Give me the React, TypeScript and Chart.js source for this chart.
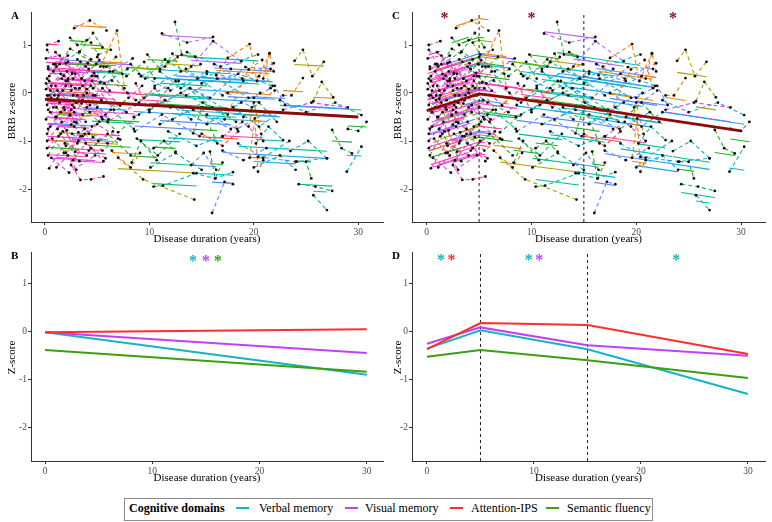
import React, { useEffect, useRef } from "react";
import { Chart, registerables } from "chart.js";
Chart.register(...registerables);

const FONT = "'Liberation Serif', 'Times New Roman', serif";

const xTicks = [0, 10, 20, 30];
const yTicks = [-2, -1, 0, 1];
const knotYears = [5, 15];

// population trends (panels A and C)
const trendAx = [0, 30];
const trendAy = [-0.13, -0.5];
const trendCx = [0, 5, 15, 30];
const trendCy = [-0.37, -0.02, -0.3, -0.79];

// cognitive domains (panels B and D)
const domains = ["Verbal memory", "Visual memory", "Attention-IPS", "Semantic fluency"];
const linearYears = [0, 30];
const verbalB = [-0.02, -0.9];
const visualB = [-0.02, -0.45];
const attentionB = [-0.02, 0.04];
const fluencyB = [-0.39, -0.84];
const pieceYears = [0, 5, 15, 30];
const verbalD = [-0.36, 0.02, -0.375, -1.3];
const visualD = [-0.26, 0.08, -0.29, -0.51];
const attentionD = [-0.37, 0.17, 0.13, -0.47];
const fluencyD = [-0.53, -0.39, -0.6, -0.97];

// significance stars: [year, z, domain index]
const starsB = [[13.8, 1.51, 0], [15.0, 1.51, 1], [16.1, 1.51, 3]];
const starsC = [[1.7, 1.61], [10.0, 1.61], [23.5, 1.61]];
const starsD = [[1.3, 1.52, 0], [2.3, 1.52, 2], [9.5, 1.52, 0], [10.5, 1.52, 1], [23.3, 1.52, 0]];

// individual observations: [year, z, year, z, ...]
const subjectPoints: number[][] = [
  [0.2, 1.0, 1.3, 1.08],
  [0.1, 0.72, 1.4, 0.78, 2.9, 0.4],
  [0.3, 0.55, 2.0, 0.15, 4.1, 0.62],
  [0.2, 0.3, 1.2, -0.12, 2.6, 0.42, 4.0, 0.08],
  [0.1, 0.08, 1.8, 0.36, 3.5, -0.22],
  [0.4, -0.05, 2.2, 0.26, 5.0, -0.3],
  [0.2, -0.25, 1.0, 0.15, 2.4, -0.47],
  [0.5, -0.4, 2.1, -0.78, 3.6, -0.15],
  [0.1, -0.55, 1.4, -0.2, 3.2, -0.82],
  [0.3, -0.75, 2.5, -0.35, 4.6, -0.92],
  [0.2, -1.0, 1.6, -0.6, 2.9, -1.22],
  [0.3, -1.3, 1.5, -0.85, 3.3, -1.42],
  [0.4, -1.57, 1.9, -1.05, 4.0, -1.3],
  [0.6, -1.35, 2.3, -1.66, 4.8, -1.3],
  [1.0, 0.85, 2.6, 0.4, 4.4, 0.7],
  [0.8, 0.45, 2.4, 0.92, 4.9, 0.6],
  [1.2, 0.05, 2.8, -0.3, 5.3, 0.22],
  [0.9, -0.15, 2.7, 0.3, 4.6, -0.05],
  [1.5, -0.4, 3.1, -0.05, 5.5, -0.55],
  [1.3, -0.9, 3.0, -0.62, 5.1, -1.0],
  [1.8, -1.25, 3.4, -0.9, 5.6, -1.42],
  [2.5, -1.5, 3.4, -1.81, 4.4, -1.8, 5.6, -1.74],
  [2.4, 1.15, 3.1, 1.0, 4.0, 1.1],
  [2.8, 1.35, 4.3, 1.51, 5.9, 1.3],
  [5.3, 0.55, 6.9, 1.3, 7.6, 0.1],
  [2.2, 0.65, 3.8, 0.25, 5.9, 0.55],
  [2.5, 0.15, 4.2, 0.5, 6.2, 0.05],
  [3.0, -0.2, 4.5, 0.25, 6.6, -0.35],
  [2.8, -0.6, 4.3, -0.25, 6.1, -0.55],
  [3.5, 0.3, 5.2, 0.68, 7.4, 0.4],
  [3.2, -1.0, 5.0, -0.65, 7.2, -0.97],
  [3.6, -0.45, 5.4, -0.15, 7.8, -0.4],
  [4.0, 0.0, 5.8, -0.45, 8.0, -0.1],
  [4.2, -1.2, 6.0, -0.85, 8.2, -1.3],
  [0.3, 0.5, 2.0, 0.62, 3.5, 0.3],
  [0.6, -0.1, 1.9, -0.35, 3.7, -0.05],
  [0.2, -0.85, 1.1, -0.5, 2.8, -0.7],
  [1.6, 0.3, 2.9, 0.1, 4.7, 0.42],
  [1.1, -0.3, 2.5, -0.66, 4.3, -0.4],
  [2.7, -1.4, 3.9, -1.05, 5.8, -1.36],
  [4.5, -0.7, 6.3, -0.35, 8.5, -0.75],
  [0.1, 0.2, 0.9, -0.05],
  [1.4, 0.6, 3.3, 0.86, 5.6, 0.55],
  [5.0, 0.75, 6.5, 0.45, 8.4, 0.72],
  [4.8, -0.05, 6.4, 0.26, 8.7, -0.15],
  [5.4, -0.5, 7.0, -0.82, 9.0, -0.45],
  [7.0, -1.35, 9.4, -1.8, 14.3, -2.22],
  [6.4, -1.2, 8.2, -1.55, 9.1, -1.25],
  [8.3, -1.45, 9.2, -1.0, 10.7, -1.4],
  [5.5, 0.1, 7.2, -0.26, 9.3, 0.15],
  [0.2, 0.9, 1.0, 0.6, 2.2, 0.78],
  [0.4, 0.25, 2.7, -0.05, 4.5, 0.35],
  [0.5, -0.7, 1.8, -0.3, 3.9, -0.6],
  [0.7, -0.95, 2.0, -1.25, 3.6, -0.9],
  [1.1, -1.55, 2.2, -1.3, 3.0, -1.6],
  [2.0, -1.1, 3.8, -0.75, 6.0, -1.05],
  [3.9, 0.55, 5.7, 0.2, 7.9, 0.5],
  [4.4, 1.05, 5.1, 0.8, 6.3, 0.9],
  [3.3, 0.85, 4.6, 1.25, 5.5, 0.95],
  [4.0, -0.3, 6.0, -0.6, 8.6, -0.25],
  [11.2, 1.24, 13.6, 1.05, 16.1, 1.17],
  [12.45, 1.48, 13.1, 0.8, 14.4, 0.75],
  [14.0, 0.55, 16.1, 1.08, 18.8, 0.66],
  [16.4, 0.37, 17.5, 0.73, 19.6, 1.02, 20.3, 0.25, 21.5, 0.82],
  [17.2, -0.55, 19.5, 0.49, 20.8, 0.69, 21.6, 0.1],
  [11.5, 0.55, 12.2, 0.82, 13.0, 0.45, 14.9, 0.6],
  [9.0, 0.4, 12.0, 0.05, 15.5, 0.45, 19.0, 0.25],
  [10.5, 0.15, 13.5, 0.5, 17.0, -0.05, 20.5, 0.35],
  [12.5, 0.25, 15.8, -0.1, 19.2, 0.54, 21.6, 0.5],
  [9.5, -0.1, 12.8, 0.25, 16.0, -0.3],
  [10.0, -0.35, 13.0, 0.0, 17.5, -0.45],
  [13.0, -0.3, 15.5, -0.65, 18.8, -0.2],
  [8.5, -0.5, 11.5, -0.15, 14.0, -0.55],
  [11.0, -0.65, 14.2, -0.35, 17.8, -0.75],
  [14.2, -0.84, 15.0, -0.3, 16.5, -1.05],
  [17.0, -0.91, 18.9, -0.6, 20.9, -1.0],
  [19.6, -1.35, 20.1, -0.53, 20.4, -1.64, 20.9, -1.4],
  [10.4, -1.95, 11.3, -1.93, 14.5, -1.67],
  [14.2, -1.67, 16.3, -1.78, 18.0, -1.65],
  [16.0, -2.5, 17.2, -1.85, 18.0, -1.9],
  [15.8, -1.22, 16.3, -1.78, 17.0, -1.45],
  [14.0, -1.5, 15.2, -1.25, 16.4, -1.6],
  [10.4, -1.15, 11.4, -1.0, 12.5, -1.22],
  [8.8, -0.95, 10.8, -1.3, 12.9, -0.85],
  [11.8, -0.8, 14.5, -1.1, 17.0, -0.9],
  [18.0, -0.3, 20.5, -0.7, 22.5, -0.4],
  [8.2, 0.6, 9.6, 0.3, 11.5, 0.7],
  [9.0, -0.2, 10.5, 0.1, 12.0, -0.3],
  [8.7, 0.2, 10.0, -0.4, 11.8, 0.1],
  [15.0, 0.2, 18.5, 0.4, 21.8, 0.15],
  [17.5, 0.0, 19.8, -0.3, 22.0, 0.05],
  [19.0, -0.5, 20.5, -0.2, 22.2, -0.6],
  [20.2, -1.05, 21.4, -0.7, 22.8, -0.98],
  [20.4, -1.33, 24.0, -1.43, 27.0, -1.36],
  [23.5, -1.21, 25.2, -1.0, 27.0, -1.36],
  [24.1, -1.43, 25.0, -1.43, 25.5, -1.78],
  [24.3, -1.9, 25.9, -1.95, 27.5, -2.04],
  [25.7, -2.13, 27.0, -2.44],
  [27.5, -0.77, 28.4, -1.15, 29.4, -1.26],
  [29.0, -0.75, 30.0, -0.79, 30.8, -0.6],
  [28.9, -1.64, 30.3, -1.12],
  [23.9, 0.67, 24.7, 0.9, 25.6, 0.35, 26.7, 0.65],
  [22.8, -0.05, 23.6, -0.05, 24.7, 0.31],
  [25.7, -0.17, 26.5, 0.23, 27.6, -0.09],
  [22.5, -0.15, 25.0, -0.4, 27.8, -0.2, 30.3, -0.46],
  [22.8, -0.35, 25.5, -0.2, 29.0, -0.3],
  [20.0, -0.1, 22.0, 0.15, 23.0, -0.25],
  [19.5, -0.7, 20.0, -0.2, 20.7, -0.85],
  [20.9, 0.3, 21.5, 0.83, 21.9, 0.45],
  [17.0, -1.2, 19.0, -1.4, 21.2, -1.15],
  [20.0, -1.55, 22.5, -1.3, 24.0, -1.6],
  [7.8, 0.35, 9.5, 0.65, 10.5, 0.3],
  [11.0, 0.45, 13.0, 0.1, 15.5, 0.4],
  [13.5, -0.05, 16.5, 0.3, 19.5, -0.1],
  [15.0, -0.85, 17.0, -1.1, 18.5, -0.8],
  [0.3, -0.35, 1.3, -0.05, 2.8, -0.4],
  [0.5, 0.05, 2.6, -0.25, 4.4, 0.15],
  [0.8, 0.6, 2.2, 0.3, 3.4, 0.65],
  [1.0, -0.5, 3.0, -0.2, 5.2, -0.6],
  [0.2, -1.15, 1.7, -0.8, 3.1, -1.05],
  [1.9, -0.15, 3.6, 0.15, 5.8, -0.2],
  [2.1, 0.45, 3.3, 0.1, 5.0, 0.35],
  [2.6, -0.85, 4.4, -1.15, 6.5, -0.8],
  [0.6, 0.15, 1.5, 0.4, 2.5, 0.05],
  [3.1, 0.7, 4.8, 0.35, 6.8, 0.75],
  [0.2, -0.05, 0.8, -0.3, 1.7, 0.05],
  [1.2, -0.75, 2.4, -0.45, 4.2, -0.85],
  [4.6, 0.1, 6.2, 0.45, 7.9, 0.0],
  [0.4, 0.35, 1.1, 0.55, 2.0, 0.25],
  [3.8, -0.85, 5.5, -1.2, 7.0, -0.95],
  [9.2, 0.35, 11.8, 0.65, 14.6, 0.3, 17.8, 0.5],
  [10.8, -0.25, 13.9, 0.1, 17.3, -0.35, 20.6, 0.0],
  [8.6, -0.8, 11.2, -0.45, 14.8, -0.9],
  [12.2, -0.55, 15.1, -0.2, 18.3, -0.6],
  [13.6, 0.85, 16.8, 0.55, 20.4, 0.8],
  [15.5, -0.45, 18.4, -0.75, 21.3, -0.4],
  [9.8, 0.8, 11.0, 0.5, 12.7, 0.75],
  [16.2, 0.6, 18.9, 0.3, 21.9, 0.62],
  [10.1, -1.55, 12.5, -1.25, 15.0, -1.6],
  [18.5, -1.05, 20.9, -1.35, 23.4, -1.0],
];

// estimated subject random intercepts (deviation from population trend)
const subjectOffsets = [
  1.15, 0.77, 0.6, 0.33, 0.23, 0.12, -0.04, -0.27, -0.37, -0.5,
  -0.77, -1.0, -1.15, -1.22, 0.79, 0.76, 0.14, 0.18, -0.16, -0.68,
  -1.0, -1.25, 1.25, 1.57, 0.85, 0.65, 0.43, 0.08, -0.29, 0.65,
  -0.67, -0.13, 0.02, -0.9, 0.63, 0.0, -0.52, 0.44, -0.3, -1.07,
  -0.4, 0.22, 0.84, 0.82, 0.23, -0.36, -1.36, -1.03, -1.08, 0.22,
  0.86, 0.35, -0.38, -0.85, -1.2, -0.77, 0.62, 1.12, 1.18, -0.2,
  1.47, 1.07, 0.98, 0.8, 0.36, 0.88, 0.58, 0.57, 0.64, 0.23,
  0.04, -0.07, -0.15, -0.31, -0.45, -0.55, -0.97, -1.63, -1.36, -1.53,
  -1.15, -1.2, -0.87, -0.73, -0.66, -0.09, 0.76, 0.1, 0.21, 0.63,
  0.27, -0.08, -0.59, -0.9, -0.75, -0.99, -1.47, -1.6, -0.53, -0.2,
  -0.81, 1.02, 0.46, 0.36, 0.15, 0.16, 0.3, -0.2, 0.85, -0.9,
  -1.05, 0.76, 0.47, 0.38, -0.6, -0.08, 0.1, 0.66, -0.25, -0.85,
  0.1, 0.45, -0.8, 0.35, 0.78, 0.02, -0.55, 0.38, 0.55, -0.85,
  0.75, 0.2, -0.45, -0.15, 1.05, -0.2, 0.95, 0.85, -1.2, -0.75,
];

// colour key per subject (see subjectPalette)
const subjectColourKeys =
  "KKMKKPKMKBKGKMKGKOKYKKGOOKMKPGKSOGKKMKLKTKBPKGYOGK" +
  "MKKOKPCLGKPGPOOYSCBTGCSBGKOTCBGBGTCSLKRCBGTSTGTCGG" +
  "CYOYSMBOOBSGTSRKGKOKPKBKLKMGKO" +
  "CSBTCSGBTC";

const subjectPalette: Record<string, string> = {
  R: "#F0502A", O: "#EE8410", Y: "#ADA000", L: "#78B800", G: "#24AE24", T: "#00BE88",
  C: "#00BCC6", S: "#1AA8EE", B: "#5A8AFF", P: "#B266FF", M: "#DE46EC", K: "#FF3CB6",
};

const domainColours = ["#16B4C2", "#C040FF", "#FF2E2E", "#3D9E12"];
const trendColour = "#8B0A0A";

function interp(xs: number[], ys: number[], x: number): number {
  for (let i = 0; i < xs.length - 1; i++) {
    if (x <= xs[i + 1] || i === xs.length - 2) {
      const t = (x - xs[i]) / (xs[i + 1] - xs[i]);
      return ys[i] + t * (ys[i + 1] - ys[i]);
    }
  }
  return ys[ys.length - 1];
}

function pairs(flat: number[]) {
  const out: { x: number; y: number }[] = [];
  for (let i = 0; i < flat.length; i += 2) out.push({ x: flat[i], y: flat[i + 1] });
  return out;
}

function lineDs(data: { x: number; y: number }[], color: string, width: number, dash: number[] = []) {
  return {
    data,
    showLine: true,
    borderColor: color,
    backgroundColor: color,
    borderWidth: width,
    borderDash: dash,
    pointRadius: 0,
    tension: 0,
    fill: false,
  };
}

function spaghetti(trendX: number[], trendY: number[], withKnots: boolean, yMin: number, yMax: number) {
  const sets: any[] = [];
  sets.push(lineDs(trendX.map((x, i) => ({ x, y: trendY[i] })), trendColour, 2.8));
  if (withKnots) {
    knotYears.forEach((k) => sets.push(lineDs([{ x: k, y: yMin }, { x: k, y: yMax }], "#222", 1, [3, 3])));
  }
  const dots: { x: number; y: number }[] = [];
  subjectPoints.forEach((p) => dots.push(...pairs(p)));
  sets.push({ data: dots, showLine: false, pointRadius: 1.4, pointBackgroundColor: "#111", pointBorderWidth: 0, borderWidth: 0 });
  subjectPoints.forEach((p, i) => {
    const col = subjectPalette[subjectColourKeys[i]] || "#888";
    const pts = pairs(p);
    const a = pts[0].x;
    const b = pts[pts.length - 1].x;
    const xs = [a];
    if (withKnots) knotYears.forEach((k) => { if (k > a && k < b) xs.push(k); });
    xs.push(b);
    const fit = xs.map((x) => ({ x, y: interp(trendX, trendY, x) + subjectOffsets[i] }));
    sets.push(lineDs(fit, col, 1.1));
    sets.push(lineDs(pts, col, 1.1, [4, 3]));
  });
  return sets;
}

function domainSets(xs: number[], series: number[][], withKnots: boolean, yMin: number, yMax: number) {
  const sets: any[] = [];
  if (withKnots) {
    knotYears.forEach((k) => sets.push(lineDs([{ x: k, y: yMin }, { x: k, y: yMax }], "#222", 1, [3, 3])));
  }
  series.forEach((s, i) => sets.push(lineDs(xs.map((x, j) => ({ x, y: s[j] })), domainColours[i], 2)));
  return sets.reverse();
}

type Star = { x: number; y: number; color: string };

type PanelCfg = {
  left: number; top: number; width: number; height: number;
  yWidth: number; xHeight: number; padTop: number; padRight: number;
  xMin: number; xMax: number; yMin: number; yMax: number;
  yTitle: string; yTitleX: number; yTitleY: number; xTitlePad: number;
  datasets: any[]; stars: Star[];
};

function Panel({ cfg }: { cfg: PanelCfg }) {
  const ref = useRef<HTMLCanvasElement>(null);
  useEffect(() => {
    const annotations = {
      id: "annotations",
      afterDatasetsDraw(chart: any) {
        const ctx = chart.ctx;
        const xs = chart.scales.x;
        const ys = chart.scales.y;
        ctx.save();
        ctx.font = `bold 16px ${FONT}`;
        ctx.textAlign = "center";
        ctx.textBaseline = "alphabetic";
        cfg.stars.forEach((s) => {
          ctx.fillStyle = s.color;
          ctx.fillText("*", xs.getPixelForValue(s.x), ys.getPixelForValue(s.y) + 7.5);
        });
        ctx.restore();
      },
      afterDraw(chart: any) {
        const ctx = chart.ctx;
        ctx.save();
        ctx.translate(cfg.yTitleX, cfg.yTitleY);
        ctx.rotate(-Math.PI / 2);
        ctx.font = `11px ${FONT}`;
        ctx.fillStyle = "#000";
        ctx.textAlign = "center";
        ctx.textBaseline = "middle";
        ctx.fillText(cfg.yTitle, 0, 0);
        ctx.restore();
      },
    };
    const axisCommon = {
      type: "linear" as const,
      grid: { display: true, drawOnChartArea: false, drawTicks: true, tickLength: 3, color: "#333", lineWidth: 1 },
      border: { display: true, color: "#333", width: 1 },
    };
    const chart = new Chart(ref.current!, {
      type: "scatter",
      data: { datasets: cfg.datasets },
      options: {
        animation: false,
        responsive: false,
        maintainAspectRatio: false,
        events: [],
        layout: { padding: { top: cfg.padTop, right: cfg.padRight, left: 0, bottom: 0 } },
        plugins: { legend: { display: false }, tooltip: { enabled: false } },
        scales: {
          x: {
            ...axisCommon,
            min: cfg.xMin,
            max: cfg.xMax,
            afterBuildTicks: (s: any) => { s.ticks = xTicks.map((v) => ({ value: v })); },
            afterFit: (s: any) => { s.height = cfg.xHeight; },
            ticks: { font: { family: FONT, size: 9.5 }, color: "#4d4d4d", padding: 1.5, maxRotation: 0, autoSkip: false },
            title: { display: true, text: "Disease duration (years)", font: { family: FONT, size: 11 }, color: "#000", padding: { top: 0, bottom: cfg.xTitlePad } },
          },
          y: {
            ...axisCommon,
            min: cfg.yMin,
            max: cfg.yMax,
            afterBuildTicks: (s: any) => { s.ticks = yTicks.map((v) => ({ value: v })); },
            afterFit: (s: any) => { s.width = cfg.yWidth; },
            ticks: { font: { family: FONT, size: 9.5 }, color: "#4d4d4d", padding: 1 },
            title: { display: false },
          },
        },
      },
      plugins: [annotations],
    } as any);
    return () => chart.destroy();
  }, []);
  return (
    <canvas
      ref={ref}
      width={cfg.width}
      height={cfg.height}
      style={{ position: "absolute", left: cfg.left, top: cfg.top, width: cfg.width, height: cfg.height }}
    />
  );
}

const yMinA = -2.6875, yMaxA = 1.6875;
const yMinB = -2.69, yMaxB = 1.643;

const panels: PanelCfg[] = [
  {
    left: 0, top: 0, width: 390, height: 250, yWidth: 31, xHeight: 28, padTop: 12, padRight: 7,
    xMin: -1.34, xMax: 32.37, yMin: yMinA, yMax: yMaxA, yTitle: "BRB z-score", yTitleX: 12.6, yTitleY: 111, xTitlePad: 4.4,
    datasets: spaghetti(trendAx, trendAy, false, yMinA, yMaxA), stars: [],
  },
  {
    left: 0, top: 240, width: 390, height: 250, yWidth: 31, xHeight: 29, padTop: 12, padRight: 7,
    xMin: -1.306, xMax: 31.52, yMin: yMinB, yMax: yMaxB, yTitle: "Z-score", yTitleX: 12.6, yTitleY: 117.5, xTitlePad: 5.7,
    datasets: domainSets(linearYears, [verbalB, visualB, attentionB, fluencyB], false, yMinB, yMaxB),
    stars: starsB.map((s) => ({ x: s[0], y: s[1], color: domainColours[s[2]] })),
  },
  {
    left: 386, top: 0, width: 386, height: 250, yWidth: 26, xHeight: 28, padTop: 12, padRight: 7,
    xMin: -1.403, xMax: 32.29, yMin: yMinA, yMax: yMaxA, yTitle: "BRB z-score", yTitleX: 12.3, yTitleY: 111, xTitlePad: 4.4,
    datasets: spaghetti(trendCx, trendCy, true, yMinA, yMaxA),
    stars: starsC.map((s) => ({ x: s[0], y: s[1], color: trendColour })),
  },
  {
    left: 386, top: 240, width: 386, height: 250, yWidth: 26, xHeight: 29, padTop: 12, padRight: 7,
    xMin: -1.4, xMax: 31.59, yMin: yMinB, yMax: yMaxB, yTitle: "Z-score", yTitleX: 12.3, yTitleY: 117.5, xTitlePad: 5.7,
    datasets: domainSets(pieceYears, [verbalD, visualD, attentionD, fluencyD], true, yMinB, yMaxB),
    stars: starsD.map((s) => ({ x: s[0], y: s[1], color: domainColours[s[2]] })),
  },
];

const panelLabels = [
  { text: "A", left: 11, top: 9 },
  { text: "B", left: 11, top: 249 },
  { text: "C", left: 392, top: 9 },
  { text: "D", left: 392, top: 249 },
];

const legendKeyLefts = [111, 220, 325, 421];
const legendTextLefts = [134, 240, 346, 442];

export default function App() {
  return (
    <div style={{ position: "absolute", left: 0, top: 0, width: 772, height: 522, background: "#fff", fontFamily: FONT, overflow: "hidden" }}>
      {panels.map((p, i) => <Panel key={i} cfg={p} />)}
      {panelLabels.map((l) => (
        <div key={l.text} style={{ position: "absolute", left: l.left, top: l.top, fontWeight: "bold", fontSize: 11, lineHeight: "12px" }}>{l.text}</div>
      ))}
      <div style={{ position: "absolute", left: 124, top: 498, width: 529, height: 23, border: "1px solid #8a8a8a", boxSizing: "border-box" }}>
        <div style={{ position: "absolute", left: 4, top: 2, fontWeight: "bold", fontSize: 12, lineHeight: "15px", whiteSpace: "nowrap" }}>Cognitive domains</div>
        {domains.map((d, i) => (
          <React.Fragment key={d}>
            <div style={{ position: "absolute", left: legendKeyLefts[i], top: 8, width: 13, height: 2, background: domainColours[i] }} />
            <div style={{ position: "absolute", left: legendTextLefts[i], top: 2, fontSize: 12, lineHeight: "15px", whiteSpace: "nowrap" }}>{d}</div>
          </React.Fragment>
        ))}
      </div>
    </div>
  );
}
